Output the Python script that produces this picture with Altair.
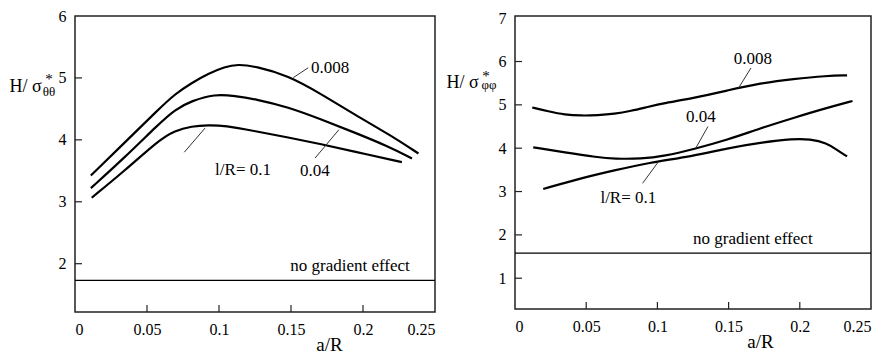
import altair as alt
import pandas as pd

FONT = "Liberation Serif"

# ---------------- Left panel (H / sigma*_theta-theta) ----------------
L_x_008 = [0.011, 0.0347, 0.0579, 0.0694, 0.081, 0.0926, 0.104, 0.113, 0.125, 0.148, 0.171, 0.194, 0.218, 0.2385]
L_y_008 = [3.425, 3.96, 4.49, 4.74, 4.92, 5.07, 5.18, 5.22, 5.19, 5.04, 4.74, 4.41, 4.09, 3.78]
L_x_04 = [0.011, 0.0347, 0.0579, 0.0694, 0.081, 0.0972, 0.111, 0.125, 0.148, 0.171, 0.194, 0.218, 0.234]
L_y_04 = [3.22, 3.72, 4.25, 4.49, 4.63, 4.74, 4.71, 4.66, 4.53, 4.33, 4.12, 3.89, 3.70]
L_x_1 = [0.0116, 0.0347, 0.0579, 0.0694, 0.081, 0.0926, 0.104, 0.125, 0.148, 0.171, 0.194, 0.227]
L_y_1 = [3.065, 3.505, 3.99, 4.15, 4.22, 4.24, 4.23, 4.14, 4.04, 3.93, 3.81, 3.64]
L_noeffect = 1.73
L_label_text = ["0.008", "0.04", "l/R= 0.1", "no gradient effect"]
L_label_x = [0.1639, 0.1563, 0.1167, 0.191]
L_label_y = [5.165, 3.50, 3.51, 1.955]
L_label_align = ["left", "left", "center", "center"]
L_lead_x = [0.1516, 0.1667, 0.0759]
L_lead_y = [5.005, 3.705, 3.80]
L_lead_x2 = [0.162, 0.1833, 0.0903]
L_lead_y2 = [5.165, 4.165, 4.19]
L_ydomain = [1.22, 6.0]
L_yticks = [2, 3, 4, 5, 6]

# ---------------- Right panel (H / sigma*_phi-phi) ----------------
R_x_008 = [0.0121, 0.0233, 0.035, 0.0466, 0.058, 0.0698, 0.0815, 0.093, 0.105, 0.1257, 0.149, 0.1723, 0.1955, 0.219, 0.2332]
R_y_008 = [4.94, 4.85, 4.77, 4.75, 4.76, 4.79, 4.86, 4.95, 5.04, 5.16, 5.33, 5.50, 5.60, 5.67, 5.68]
R_x_04 = [0.0128, 0.035, 0.058, 0.0698, 0.0885, 0.105, 0.1257, 0.149, 0.1723, 0.1955, 0.219, 0.237]
R_y_04 = [4.02, 3.90, 3.79, 3.755, 3.755, 3.82, 3.98, 4.19, 4.46, 4.70, 4.93, 5.09]
R_x_1 = [0.0198, 0.0466, 0.0698, 0.093, 0.1257, 0.149, 0.1723, 0.1955, 0.207, 0.219, 0.226, 0.2332]
R_y_1 = [3.06, 3.31, 3.49, 3.66, 3.82, 4.00, 4.13, 4.22, 4.21, 4.12, 3.96, 3.81]
R_noeffect = 1.58
R_label_text = ["0.008", "0.04", "l/R= 0.1", "no gradient effect"]
R_label_x = [0.1536, 0.120, 0.0796, 0.167]
R_label_y = [6.06, 4.73, 2.85, 1.90]
R_label_align = ["left", "left", "center", "center"]
R_lead_x = [0.157, 0.1269, 0.0896]
R_lead_y = [5.39, 4.00, 3.19]
R_lead_x2 = [0.1657, 0.1355, 0.1001]
R_lead_y2 = [5.85, 4.50, 3.66]
R_ydomain = [0.29, 7.05]
R_yticks = [1, 2, 3, 4, 5, 6, 7]

X_DOMAIN = [0, 0.25]
X_LABEL_VALUES = [0, 0.05, 0.1, 0.15, 0.2, 0.25]
X_INNER_TICKS = [0.05, 0.1, 0.15, 0.2]


def panel(curves, lab_text, lab_x, lab_y, lab_align, lx, ly, lx2, ly2, noeff,
          ydomain, yticks, width, height, sub_text, star_pos, sub_pos, ytitle_x, ytitle_y, xtitle_x):
    xs = alt.Scale(domain=X_DOMAIN, nice=False, zero=False)
    ys = alt.Scale(domain=ydomain, nice=False, zero=False)
    xax = alt.Axis(values=X_LABEL_VALUES, format="~g", ticks=False, domain=False, grid=False,
                   labelFlush=True, labelPadding=9, title="a/R", titleX=xtitle_x, titleY=38,
                   titleAlign="center", titleBaseline="alphabetic", titleFontSize=19)
    yax = alt.Axis(values=yticks, ticks=False, domain=False, grid=False, labelPadding=9,
                   title="H/ σ", titleAngle=0, titleX=ytitle_x, titleY=ytitle_y,
                   titleAlign="left", titleBaseline="alphabetic")

    def X(f):
        return alt.X(f, scale=xs, axis=xax)

    def Y(f):
        return alt.Y(f, scale=ys, axis=yax)

    rows = []
    for name, xv, yv in curves:
        for a, b in zip(xv, yv):
            rows.append({"series": name, "x": a, "y": b})
    df = pd.DataFrame(rows)

    lines = alt.Chart(df).mark_line(interpolate="basis", color="black", strokeWidth=2.2).encode(
        x=X("x:Q"), y=Y("y:Q"), detail="series:N",
    )

    hline = alt.Chart(pd.DataFrame({"y": [noeff]})).mark_rule(color="black", strokeWidth=1.3).encode(
        y=Y("y:Q")
    )

    lead_df = pd.DataFrame({"x": lx, "y": ly, "x2": lx2, "y2": ly2})
    leaders = alt.Chart(lead_df).mark_rule(color="#333", strokeWidth=1).encode(
        x=X("x:Q"), y=Y("y:Q"), x2="x2:Q", y2="y2:Q",
    )

    texts = []
    for al in ["left", "center"]:
        sub = pd.DataFrame({"t": [t for t, a in zip(lab_text, lab_align) if a == al],
                            "x": [v for v, a in zip(lab_x, lab_align) if a == al],
                            "y": [v for v, a in zip(lab_y, lab_align) if a == al]})
        texts.append(alt.Chart(sub).mark_text(font=FONT, fontSize=17, align=al, baseline="middle",
                                              color="black").encode(
            x=X("x:Q"), y=Y("y:Q"), text="t:N"))

    xt = alt.Chart(pd.DataFrame({"x": X_INNER_TICKS})).mark_rule(color="#222", strokeWidth=1.2).encode(
        x=X("x:Q"), y=alt.value(height), y2=alt.value(height - 7))
    yt = alt.Chart(pd.DataFrame({"y": [v for v in yticks if v < ydomain[1] - 0.1]})).mark_rule(
        color="#222", strokeWidth=1.2).encode(
        y=Y("y:Q"), x=alt.value(0), x2=alt.value(7))

    star = alt.Chart(pd.DataFrame({"t": ["*"]})).mark_text(font=FONT, fontSize=15, align="center",
                                                           baseline="alphabetic", color="black").encode(
        x=alt.value(star_pos[0]), y=alt.value(star_pos[1]), text="t:N")
    subs = alt.Chart(pd.DataFrame({"t": [sub_text]})).mark_text(font=FONT, fontSize=13, align="center",
                                                                baseline="alphabetic", color="black").encode(
        x=alt.value(sub_pos[0]), y=alt.value(sub_pos[1]), text="t:N")

    return alt.layer(lines, hline, leaders, *texts, xt, yt, star, subs).properties(width=width, height=height)


left = panel([("0.008", L_x_008, L_y_008), ("0.04", L_x_04, L_y_04), ("0.1", L_x_1, L_y_1)],
             L_label_text, L_label_x, L_label_y, L_label_align,
             L_lead_x, L_lead_y, L_lead_x2, L_lead_y2, L_noeffect,
             L_ydomain, L_yticks, 360, 296, "θθ", (-26, 68), (-26, 80), -66, 75, 254)

right = panel([("0.008", R_x_008, R_y_008), ("0.04", R_x_04, R_y_04), ("0.1", R_x_1, R_y_1)],
              R_label_text, R_label_x, R_label_y, R_label_align,
              R_lead_x, R_lead_y, R_lead_x2, R_lead_y2, R_noeffect,
              R_ydomain, R_yticks, 356, 293, "φφ", (-29, 65), (-26, 73), -69, 71, 245)

chart = alt.hconcat(left, right, spacing=8).properties(
    padding={"left": 0, "top": -1, "right": 0, "bottom": 0}, background="white"
).configure_view(stroke="#222", strokeWidth=1.5).configure_axis(
    labelFont=FONT, labelFontSize=16, labelColor="black",
    titleFont=FONT, titleFontSize=18, titleFontWeight="normal", titleColor="black",
)

chart.save("out.html", embed_options={"renderer": "svg", "actions": False})
